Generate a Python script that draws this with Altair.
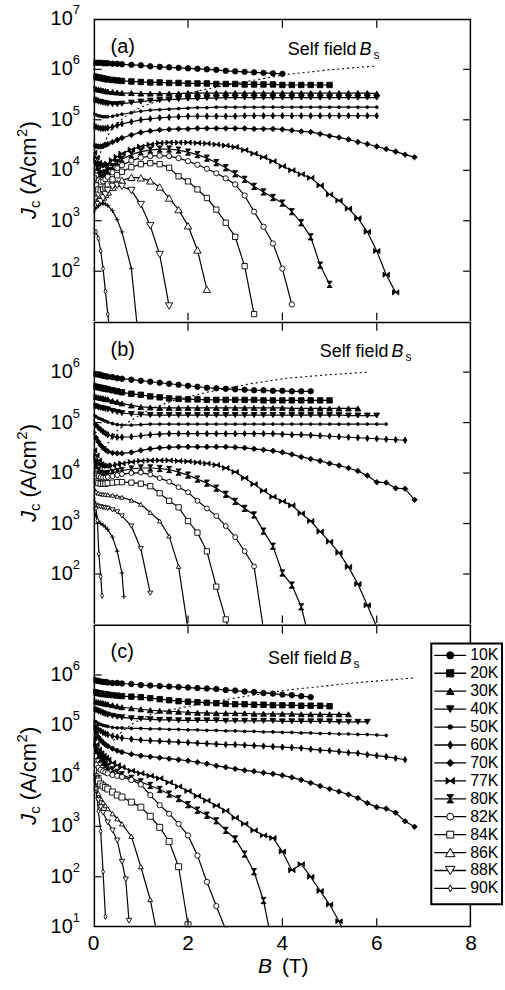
import altair as alt
import pandas as pd

FONT = "Liberation Sans"
W, H = 379, 304

# Field grid (T) shared by most curves
GRID_B = [0, 0.05, 0.1, 0.15, 0.2, 0.25, 0.3, 0.4, 0.5, 0.6,
          0.8, 1.0, 1.2, 1.4, 1.6, 1.8, 2.0, 2.2, 2.4, 2.6,
          2.8, 3.0, 3.2, 3.4, 3.6, 3.8, 4.0, 4.2, 4.4, 4.6,
          4.8, 5.0, 5.2, 5.4, 5.6, 5.8, 6.0, 6.2, 6.4, 6.6, 6.8]

# ---------------- panel (a): log10 Jc (A/cm^2) ----------------
A_LOG = {
    "10K": [6.13, 6.13, 6.13, 6.13, 6.12, 6.12, 6.12, 6.11, 6.11, 6.10,
            6.09, 6.08, 6.06, 6.05, 6.04, 6.03, 6.02, 6.01, 6.00, 5.99,
            5.97, 5.96, 5.95, 5.94, 5.93, 5.92, 5.91],
    "20K": [5.86, 5.85, 5.84, 5.83, 5.82, 5.81, 5.80, 5.79, 5.78, 5.77,
            5.76, 5.75, 5.74, 5.74, 5.73, 5.73, 5.72, 5.72, 5.72, 5.71,
            5.71, 5.71, 5.70, 5.70, 5.70, 5.70, 5.69, 5.69, 5.69, 5.69,
            5.69, 5.69],
    "30K": [5.62, 5.61, 5.60, 5.59, 5.58, 5.57, 5.56, 5.55, 5.54, 5.53,
            5.53, 5.52, 5.52, 5.52, 5.52, 5.52, 5.53, 5.53, 5.53, 5.53,
            5.53, 5.53, 5.53, 5.53, 5.53, 5.53, 5.53, 5.53, 5.53, 5.53,
            5.53, 5.53, 5.53, 5.53, 5.53, 5.53, 5.52],
    "40K": [5.40, 5.38, 5.36, 5.35, 5.34, 5.33, 5.32, 5.31, 5.31, 5.32,
            5.34, 5.36, 5.38, 5.39, 5.40, 5.41, 5.42, 5.42, 5.43, 5.43,
            5.44, 5.44, 5.44, 5.44, 5.44, 5.44, 5.44, 5.44, 5.44, 5.44,
            5.44, 5.44, 5.44, 5.44, 5.44, 5.44, 5.44],
    "50K": [5.12, 5.10, 5.08, 5.07, 5.06, 5.06, 5.06, 5.07, 5.09, 5.11,
            5.14, 5.17, 5.19, 5.20, 5.21, 5.22, 5.23, 5.24, 5.24, 5.25,
            5.25, 5.25, 5.25, 5.25, 5.25, 5.25, 5.25, 5.25, 5.25, 5.25,
            5.25, 5.25, 5.25, 5.25, 5.25, 5.25, 5.25],
    "60K": [4.88, 4.86, 4.84, 4.83, 4.83, 4.83, 4.84, 4.86, 4.89, 4.92,
            4.96, 5.00, 5.02, 5.04, 5.05, 5.06, 5.07, 5.07, 5.07, 5.07,
            5.07, 5.07, 5.08, 5.08, 5.08, 5.08, 5.08, 5.08, 5.08, 5.08,
            5.08, 5.08, 5.08, 5.08, 5.08, 5.08, 5.08],
    "70K": [4.50, 4.48, 4.47, 4.47, 4.48, 4.50, 4.52, 4.56, 4.60, 4.64,
            4.70, 4.75, 4.78, 4.80, 4.81, 4.82, 4.82, 4.83, 4.83, 4.83,
            4.83, 4.83, 4.83, 4.82, 4.82, 4.82, 4.81, 4.79, 4.77, 4.76,
            4.72, 4.68, 4.65, 4.61, 4.56, 4.52, 4.47, 4.42, 4.37, 4.31,
            4.26],
    "77K": [4.35, 4.25, 4.15, 4.10, 4.09, 4.10, 4.13, 4.20, 4.27, 4.33,
            4.41, 4.47, 4.51, 4.54, 4.55, 4.55, 4.55, 4.54, 4.53, 4.51,
            4.49, 4.46, 4.40, 4.33, 4.26, 4.18, 4.08, 4.00, 3.92, 3.85,
            3.70, 3.52, 3.40, 3.24, 3.05, 2.78, 2.40, 1.93, 1.58],
    "80K": [4.20, 4.08, 3.98, 3.93, 3.92, 3.95, 3.99, 4.07, 4.15, 4.22,
            4.31, 4.37, 4.40, 4.42, 4.42, 4.40, 4.36, 4.31, 4.24, 4.15,
            4.05, 3.93, 3.82, 3.68, 3.57, 3.46, 3.35, 3.18, 2.96, 2.68,
            2.12, 1.74],
    "82K": [4.05, 3.90, 3.80, 3.77, 3.78, 3.82, 3.87, 3.96, 4.04, 4.10,
            4.19, 4.25, 4.28, 4.29, 4.28, 4.24, 4.18, 4.11, 4.03, 3.94,
            3.84, 3.72, 3.50, 3.18, 2.88, 2.55, 2.05, 1.34],
    "84K": [3.85, 3.70, 3.62, 3.60, 3.62, 3.66, 3.72, 3.82, 3.90, 3.97,
            4.06, 4.12, 4.14, 4.12, 4.05, 3.88, 3.78, 3.62, 3.45, 3.22,
            2.96, 2.68, 2.10, 1.15],
    "86K": [3.55, 3.45, 3.42, 3.43, 3.47, 3.52, 3.57, 3.66, 3.74, 3.80,
            3.86, 3.85, 3.79, 3.67, 3.45, 3.22, 2.90, 2.42, 1.64],
    "88K": [3.35, 3.30, 3.32, 3.38, 3.45, 3.52, 3.60, 3.68, 3.70, 3.68,
            3.60, 3.32, 2.90, 2.33, 1.31],
    "89K": [3.18, 3.25, 3.30, 3.33, 3.34, 3.33, 3.30, 3.20, 3.02, 2.78,
            2.05, 0.20],
    "90K": [2.80, 2.78, 2.65, 2.40, 2.05, 1.60, 1.15, 0.30],
}
A_CUSTOM_B = {}
A_SELF_B = [0.08, 0.11, 0.18, 0.36, 0.64, 1.0, 1.56, 2.4, 3.25, 4.1, 5.0, 6.0]
A_SELF_LOG = [4.05, 4.20, 4.46, 4.79, 5.05, 5.25, 5.44, 5.61, 5.76, 5.90, 5.99, 6.07]

# ---------------- panel (b) ----------------
B_LOG = {
    "10K": [5.97, 5.96, 5.95, 5.94, 5.93, 5.92, 5.91, 5.90, 5.88, 5.87,
            5.85, 5.83, 5.81, 5.79, 5.77, 5.75, 5.73, 5.71, 5.69, 5.68,
            5.67, 5.66, 5.65, 5.64, 5.64, 5.63, 5.63, 5.62, 5.62, 5.62],
    "20K": [5.72, 5.71, 5.70, 5.69, 5.68, 5.67, 5.66, 5.64, 5.62, 5.60,
            5.57, 5.55, 5.52, 5.50, 5.48, 5.47, 5.46, 5.46, 5.45, 5.45,
            5.45, 5.45, 5.45, 5.45, 5.44, 5.44, 5.44, 5.44, 5.44, 5.44,
            5.44, 5.44],
    "30K": [5.52, 5.51, 5.50, 5.49, 5.48, 5.47, 5.46, 5.43, 5.41, 5.38,
            5.34, 5.31, 5.30, 5.29, 5.29, 5.29, 5.29, 5.29, 5.29, 5.29,
            5.29, 5.29, 5.29, 5.29, 5.29, 5.29, 5.29, 5.28, 5.28, 5.28,
            5.28, 5.28, 5.28, 5.28, 5.28],
    "40K": [5.33, 5.32, 5.30, 5.29, 5.28, 5.27, 5.26, 5.23, 5.21, 5.19,
            5.17, 5.16, 5.15, 5.15, 5.15, 5.15, 5.15, 5.15, 5.15, 5.15,
            5.15, 5.15, 5.15, 5.15, 5.15, 5.15, 5.15, 5.15, 5.15, 5.15,
            5.15, 5.15, 5.15, 5.14, 5.14, 5.14, 5.14],
    "50K": [5.15, 5.12, 5.09, 5.07, 5.05, 5.03, 5.01, 4.98, 4.96, 4.95,
            4.95, 4.96, 4.97, 4.97, 4.97, 4.97, 4.97, 4.97, 4.97, 4.97,
            4.97, 4.97, 4.97, 4.97, 4.97, 4.97, 4.97, 4.97, 4.97, 4.97,
            4.97, 4.97, 4.97, 4.97, 4.97, 4.97, 4.97, 4.97],
    "60K": [5.00, 4.95, 4.90, 4.86, 4.82, 4.79, 4.76, 4.73, 4.71, 4.71,
            4.72, 4.74, 4.76, 4.77, 4.78, 4.78, 4.78, 4.78, 4.78, 4.78,
            4.78, 4.78, 4.78, 4.78, 4.78, 4.78, 4.77, 4.76, 4.76, 4.75,
            4.74, 4.73, 4.72, 4.71, 4.70, 4.69, 4.68, 4.67, 4.66, 4.65],
    "70K": [4.80, 4.70, 4.62, 4.55, 4.50, 4.46, 4.43, 4.40, 4.39, 4.39,
            4.41, 4.45, 4.48, 4.50, 4.51, 4.52, 4.52, 4.52, 4.52, 4.52,
            4.52, 4.51, 4.50, 4.48, 4.46, 4.44, 4.41, 4.37, 4.32, 4.28,
            4.24, 4.19, 4.15, 4.10, 4.04, 3.95, 3.82, 3.81, 3.70, 3.69,
            3.47],
    "77K": [4.45, 4.35, 4.25, 4.18, 4.15, 4.14, 4.14, 4.15, 4.17, 4.19,
            4.22, 4.24, 4.25, 4.25, 4.25, 4.24, 4.23, 4.21, 4.19, 4.16,
            4.10, 4.02, 3.90, 3.78, 3.65, 3.53, 3.44, 3.36, 3.20, 3.05,
            2.84, 2.64, 2.42, 2.14, 1.80, 1.38, 0.95],
    "80K": [4.30, 4.15, 4.05, 4.00, 3.98, 3.98, 3.99, 4.01, 4.03, 4.05,
            4.08, 4.10, 4.10, 4.09, 4.07, 4.02, 3.96, 3.88, 3.80, 3.70,
            3.58, 3.44, 3.30, 3.17, 2.85, 2.55, 2.02, 1.78, 1.35, 0.60],
    "82K": [4.05, 3.98, 3.94, 3.92, 3.91, 3.91, 3.92, 3.94, 3.96, 3.98,
            4.00, 4.01, 3.97, 3.90, 3.83, 3.72, 3.62, 3.45, 3.30, 3.15,
            2.95, 2.73, 2.45, 2.15, 0.90],
    "84K": [3.90, 3.83, 3.80, 3.79, 3.79, 3.79, 3.80, 3.81, 3.82, 3.82,
            3.81, 3.79, 3.74, 3.60, 3.45, 3.32, 3.05, 2.82, 2.45, 1.75,
            1.10, 0.50],
    "86K": [3.70, 3.63, 3.60, 3.59, 3.58, 3.58, 3.57, 3.56, 3.54, 3.52,
            3.46, 3.38, 3.22, 3.05, 2.75, 2.15, 0.90],
    "88K": [3.40, 3.36, 3.34, 3.33, 3.32, 3.31, 3.30, 3.27, 3.23, 3.15,
            2.95, 2.50, 1.62],
    "89K": [3.30, 3.15, 3.05, 3.00, 2.97, 2.93, 2.88, 2.73, 2.45, 2.02,
            1.55],
    "90K": [3.50, 3.30, 3.06, 2.40, 1.95, 1.57],
}
B_CUSTOM_B = {
    "89K": [0, 0.05, 0.1, 0.15, 0.2, 0.25, 0.3, 0.4, 0.5, 0.6, 0.64],
    "90K": [0, 0.05, 0.08, 0.11, 0.15, 0.18],
}
B_SELF_B = [0.25, 0.29, 0.5, 0.78, 1.2, 1.7, 2.4, 3.32, 4.1, 5.0, 5.82]
B_SELF_LOG = [4.50, 4.58, 4.84, 5.04, 5.27, 5.44, 5.60, 5.77, 5.88, 5.95, 6.00]

# ---------------- panel (c) ----------------
C_LOG = {
    "10K": [5.90, 5.89, 5.88, 5.87, 5.86, 5.86, 5.85, 5.84, 5.84, 5.83,
            5.82, 5.80, 5.79, 5.78, 5.77, 5.76, 5.75, 5.74, 5.73, 5.72,
            5.70, 5.69, 5.67, 5.66, 5.64, 5.63, 5.61, 5.60, 5.58, 5.56],
    "20K": [5.66, 5.65, 5.64, 5.63, 5.62, 5.62, 5.61, 5.60, 5.59, 5.58,
            5.57, 5.56, 5.54, 5.52, 5.50, 5.48, 5.47, 5.46, 5.45, 5.44,
            5.43, 5.42, 5.42, 5.41, 5.41, 5.40, 5.40, 5.40, 5.39, 5.39,
            5.39, 5.38],
    "30K": [5.48, 5.47, 5.46, 5.45, 5.44, 5.43, 5.42, 5.40, 5.38, 5.36,
            5.34, 5.32, 5.30, 5.29, 5.28, 5.27, 5.26, 5.25, 5.25, 5.24,
            5.24, 5.24, 5.24, 5.23, 5.23, 5.23, 5.23, 5.23, 5.22, 5.22,
            5.22, 5.22, 5.22, 5.22],
    "40K": [5.32, 5.30, 5.28, 5.26, 5.24, 5.22, 5.21, 5.19, 5.17, 5.16,
            5.14, 5.13, 5.12, 5.11, 5.11, 5.10, 5.10, 5.10, 5.10, 5.10,
            5.09, 5.09, 5.09, 5.09, 5.09, 5.09, 5.08, 5.08, 5.08, 5.08,
            5.08, 5.08, 5.07, 5.07, 5.07, 5.07],
    "50K": [5.10, 5.07, 5.04, 5.02, 5.00, 4.99, 4.98, 4.96, 4.95, 4.95,
            4.94, 4.94, 4.93, 4.93, 4.92, 4.92, 4.91, 4.91, 4.90, 4.90,
            4.89, 4.89, 4.88, 4.88, 4.87, 4.87, 4.86, 4.86, 4.85, 4.85,
            4.84, 4.84, 4.83, 4.83, 4.82, 4.82, 4.81, 4.80],
    "60K": [5.00, 4.96, 4.92, 4.89, 4.86, 4.84, 4.82, 4.79, 4.77, 4.75,
            4.73, 4.71, 4.70, 4.69, 4.68, 4.67, 4.66, 4.65, 4.64, 4.63,
            4.62, 4.62, 4.61, 4.60, 4.59, 4.58, 4.57, 4.56, 4.55, 4.53,
            4.51, 4.50, 4.48, 4.46, 4.45, 4.42, 4.40, 4.38, 4.35, 4.32],
    "70K": [4.95, 4.85, 4.77, 4.71, 4.66, 4.62, 4.59, 4.54, 4.50, 4.47,
            4.43, 4.40, 4.38, 4.36, 4.34, 4.32, 4.30, 4.27, 4.24, 4.20,
            4.17, 4.14, 4.11, 4.09, 4.06, 4.04, 4.01, 3.97, 3.92, 3.86,
            3.80, 3.74, 3.69, 3.63, 3.56, 3.46, 3.38, 3.35, 3.27, 3.10,
            2.99],
    "77K": [4.75, 4.62, 4.52, 4.45, 4.40, 4.36, 4.32, 4.26, 4.21, 4.17,
            4.10, 4.05, 4.00, 3.95, 3.87, 3.79, 3.70, 3.60, 3.51, 3.41,
            3.31, 3.17, 3.05, 2.92, 2.82, 2.77, 2.50, 2.13, 2.25, 2.00,
            1.72, 1.45, 1.12, 0.70],
    "80K": [4.65, 4.50, 4.40, 4.33, 4.27, 4.22, 4.18, 4.12, 4.07, 4.02,
            3.95, 3.88, 3.81, 3.73, 3.64, 3.55, 3.43, 3.32, 3.22, 3.11,
            2.92, 2.75, 2.45, 2.10, 1.53, 0.60],
    "82K": [4.30, 4.22, 4.16, 4.12, 4.09, 4.07, 4.05, 4.02, 4.00, 3.98,
            3.92, 3.83, 3.62, 3.42, 3.25, 3.05, 2.82, 2.42, 1.90, 1.42,
            0.95],
    "84K": [4.10, 3.98, 3.90, 3.84, 3.80, 3.77, 3.74, 3.68, 3.62, 3.58,
            3.48, 3.38, 3.20, 2.98, 2.70, 2.20, 1.05],
    "86K": [4.00, 3.80, 3.65, 3.55, 3.47, 3.41, 3.35, 3.25, 3.15, 3.05,
            2.80, 2.20, 1.55, 0.60],
    "88K": [3.95, 3.70, 3.52, 3.38, 3.27, 3.08, 2.92, 2.72, 2.30, 1.95,
            1.13],
    "90K": [4.05, 3.75, 3.30, 2.90, 2.10, 1.21],
}
C_CUSTOM_B = {
    "88K": [0, 0.05, 0.1, 0.15, 0.2, 0.3, 0.4, 0.5, 0.6, 0.68, 0.75],
    "90K": [0, 0.05, 0.1, 0.15, 0.2, 0.25],
}
C_SELF_B = [0.42, 0.5, 0.64, 0.85, 1.2, 1.7, 2.4, 3.25, 4.1, 5.5, 6.77]
C_SELF_LOG = [4.70, 4.79, 4.91, 5.05, 5.21, 5.32, 5.45, 5.58, 5.70, 5.84, 5.94]

LEGEND_T = ["10K", "20K", "30K", "40K", "50K", "60K", "70K",
            "77K", "80K", "82K", "84K", "86K", "88K", "90K"]
X_TICK_LABELS = [0, 2, 4, 6, 8]

# ---------------- marker styles ----------------
THIN_DIAMOND = "M0,-1L0.55,0L0,1L-0.55,0Z"
BOWTIE = "M-1,-0.8L1,0.8L1,-0.8L-1,0.8Z"
HOURGLASS = "M-0.8,-1L0.8,-1L-0.8,1L0.8,1Z"
PLUS = "M-1,0L1,0M0,-1L0,1"

STYLE = {
    "10K": ("circle", "black", 30),
    "20K": ("square", "black", 30),
    "30K": ("triangle-up", "black", 34),
    "40K": ("triangle-down", "black", 34),
    "50K": ("circle", "black", 8),
    "60K": (THIN_DIAMOND, "black", 40),
    "70K": ("diamond", "black", 30),
    "77K": (BOWTIE, "black", 40),
    "80K": (HOURGLASS, "black", 40),
    "82K": ("circle", "white", 28),
    "84K": ("square", "white", 28),
    "86K": ("triangle-up", "white", 55),
    "88K": ("triangle-down", "white", 55),
    "89K": (PLUS, "white", 22),
    "90K": (THIN_DIAMOND, "white", 28),
}
STYLE_B = dict(STYLE)
STYLE_B.update({"86K": ("triangle-up", "white", 20),
                "88K": ("triangle-down", "white", 24),
                "82K": ("circle", "white", 24)})
STYLE_C = dict(STYLE)
STYLE_C.update({"86K": ("triangle-up", "white", 24),
                "88K": ("triangle-down", "white", 30),
                "84K": ("square", "white", 36)})

XS = alt.Scale(domain=[0, 8], nice=False, zero=False)
YS = alt.Scale(type="log", domain=[10, 1e7], nice=False)
BW = 1.5  # frame width


def curves_frame(logs, custom_b, styles):
    rows = []
    for t, vals in logs.items():
        bs = custom_b.get(t, GRID_B[:len(vals)])
        shape, fill, size = styles[t]
        for b, v in zip(bs, vals):
            rows.append({"T": t, "B": b, "J": 10 ** v,
                         "shape": shape, "fill": fill, "size": size})
    return pd.DataFrame(rows)


def one(s=""):
    return pd.DataFrame({"t": [s]})


def txt(s, x, y, size, italic=False, angle=0, align="left",
        baseline="middle", dx=0, dy=0):
    kw = dict(align=align, baseline=baseline, fontSize=size, font=FONT,
              color="black", dx=dx, dy=dy)
    if italic:
        kw["fontStyle"] = "italic"
    if angle:
        kw["angle"] = angle
    return alt.Chart(one(s)).mark_text(**kw).encode(
        text="t:N", x=alt.value(x), y=alt.value(y))


def frame_rule(x, x2, y, y2):
    return alt.Chart(one()).mark_rule(color="black", strokeWidth=BW).encode(
        x=alt.value(x), x2=alt.value(x2), y=alt.value(y), y2=alt.value(y2))


def make_panel(df, sf_b, sf_log, tag, sf_x, sf_y, exps, top_anchor, bottom_frame):
    X = alt.X("B:Q", scale=XS, axis=None)
    Y = alt.Y("J:Q", scale=YS, axis=None)
    h = BW / 2
    layers = []
    # invisible layout anchor
    layers.append(alt.Chart(one()).mark_rule(color="white", strokeWidth=0.3).encode(
        x=alt.value(-93), x2=alt.value(412), y=alt.value(top_anchor)))
    # self-field dotted line
    sf = pd.DataFrame({"B": sf_b, "J": [10 ** v for v in sf_log]})
    layers.append(alt.Chart(sf).mark_line(color="black", strokeWidth=1.1,
                                          strokeDash=[2, 3], clip=True).encode(x=X, y=Y))
    # curves
    base = alt.Chart(df)
    layers.append(base.mark_line(color="black", strokeWidth=1.2, clip=True).encode(
        x=X, y=Y, detail="T:N", order=alt.Order("B:Q")))
    layers.append(base.mark_point(clip=True, stroke="black", strokeWidth=0.9,
                                  opacity=1).encode(
        x=X, y=Y,
        shape=alt.Shape("shape:N", scale=None),
        fill=alt.Fill("fill:N", scale=None),
        size=alt.Size("size:Q", scale=None)))
    # frame (drawn inside the panel so panels touch)
    layers.append(frame_rule(0, W, h, h))
    layers.append(frame_rule(h, h, h, H - h))
    layers.append(frame_rule(W - h, W - h, h, H - h))
    if bottom_frame:
        layers.append(frame_rule(0, W, H - h, H - h))
    # inside ticks
    dec = pd.DataFrame({"J": [1e2, 1e3, 1e4, 1e5, 1e6]})
    layers.append(alt.Chart(dec).mark_rule(color="black", strokeWidth=1.2).encode(
        y=Y, x=alt.value(0), x2=alt.value(8)))
    layers.append(alt.Chart(dec).mark_rule(color="black", strokeWidth=1.2).encode(
        y=Y, x=alt.value(W - 8), x2=alt.value(W)))
    bt = pd.DataFrame({"B": [2, 4, 6]})
    layers.append(alt.Chart(bt).mark_rule(color="black", strokeWidth=1.2).encode(
        x=X, y=alt.value(1.5), y2=alt.value(9)))
    layers.append(alt.Chart(bt).mark_rule(color="black", strokeWidth=1.2).encode(
        x=X, y=alt.value(H - 9), y2=alt.value(H - 1.5)))
    # y tick labels 10^n
    lab = pd.DataFrame({"J": [10.0 ** e for e in exps], "base": ["10"] * len(exps),
                        "exp": [str(e) for e in exps]})
    layers.append(alt.Chart(lab).mark_text(align="right", baseline="middle",
                                           fontSize=20, font=FONT, color="black").encode(
        y=Y, x=alt.value(-21), text="base:N"))
    layers.append(alt.Chart(lab).mark_text(align="left", baseline="middle",
                                           fontSize=13, font=FONT, color="black", dy=-9).encode(
        y=Y, x=alt.value(-21), text="exp:N"))
    # rotated y title: Jc (A/cm2)
    yb = H / 2 + 49
    layers.append(txt("J", -58, yb, 22, italic=True, angle=270, baseline="alphabetic"))
    layers.append(txt("c", -58, yb, 15, angle=270, baseline="alphabetic", dx=11, dy=4))
    layers.append(txt("(A/cm", -58, yb, 22, angle=270, baseline="alphabetic", dx=24.5))
    layers.append(txt("2", -58, yb, 15, angle=270, baseline="alphabetic", dx=82.5, dy=-9))
    layers.append(txt(")", -58, yb, 22, angle=270, baseline="alphabetic", dx=91))
    # panel tag and self-field label
    layers.append(txt(tag, 17, 28, 20))
    layers.append(txt("Self field", sf_x, sf_y, 18))
    layers.append(txt("B", sf_x + 72, sf_y, 18, italic=True))
    layers.append(txt("s", sf_x + 86, sf_y, 12, dy=5))
    return layers


panel_a = alt.layer(*make_panel(curves_frame(A_LOG, A_CUSTOM_B, STYLE),
                                A_SELF_B, A_SELF_LOG, "(a)", 195, 31,
                                [2, 3, 4, 5, 6, 7], -16, False)).properties(width=W, height=H)

panel_b = alt.layer(*make_panel(curves_frame(B_LOG, B_CUSTOM_B, STYLE_B),
                                B_SELF_B, B_SELF_LOG, "(b)", 227, 30,
                                [2, 3, 4, 5, 6], H / 2, False)).properties(width=W, height=H)

# panel (c) with legend and x axis
c_layers = make_panel(curves_frame(C_LOG, C_CUSTOM_B, STYLE_C),
                      C_SELF_B, C_SELF_LOG, "(c)", 175, 35,
                      [1, 2, 3, 4, 5, 6], H / 2, True)
xl = pd.DataFrame({"B": X_TICK_LABELS, "s": [str(v) for v in X_TICK_LABELS]})
c_layers.append(alt.Chart(xl).mark_text(align="center", baseline="middle", fontSize=21,
                                        font=FONT, color="black").encode(
    x=alt.X("B:Q", scale=XS, axis=None), y=alt.value(321), text="s:N"))
c_layers.append(txt("B", 165, 344, 21, italic=True))
c_layers.append(txt("(T)", 189, 344, 21))

leg = pd.DataFrame({"T": LEGEND_T,
                    "shape": [STYLE[t][0] for t in LEGEND_T],
                    "fill": [STYLE[t][1] for t in LEGEND_T],
                    "size": [max(STYLE[t][2] * 1.7, 20) for t in LEGEND_T]})
LY = alt.Y("T:N", scale=alt.Scale(type="point", domain=LEGEND_T, range=[31, 265], padding=0),
           axis=None)
c_layers.append(alt.Chart(one()).mark_rect(fill="white", stroke="black", strokeWidth=2).encode(
    x=alt.value(339), x2=alt.value(410), y=alt.value(19), y2=alt.value(281)))
c_layers.append(alt.Chart(leg).mark_rule(color="black", strokeWidth=1.3).encode(
    x=alt.value(342), x2=alt.value(374), y=LY))
c_layers.append(alt.Chart(leg).mark_point(stroke="black", strokeWidth=1, opacity=1).encode(
    x=alt.value(358), y=LY,
    shape=alt.Shape("shape:N", scale=None),
    fill=alt.Fill("fill:N", scale=None),
    size=alt.Size("size:Q", scale=None)))
c_layers.append(alt.Chart(leg).mark_text(align="left", baseline="middle", fontSize=16,
                                         font=FONT, color="black").encode(
    x=alt.value(378), y=LY, text="T:N"))

panel_c = alt.layer(*c_layers).resolve_scale(y="independent").properties(width=W, height=H)

chart = alt.vconcat(panel_a, panel_b, panel_c, spacing=0).properties(
    padding=0, background="white"
).configure_view(strokeWidth=0)

chart.save("out.html", embed_options={"renderer": "svg", "actions": False})
